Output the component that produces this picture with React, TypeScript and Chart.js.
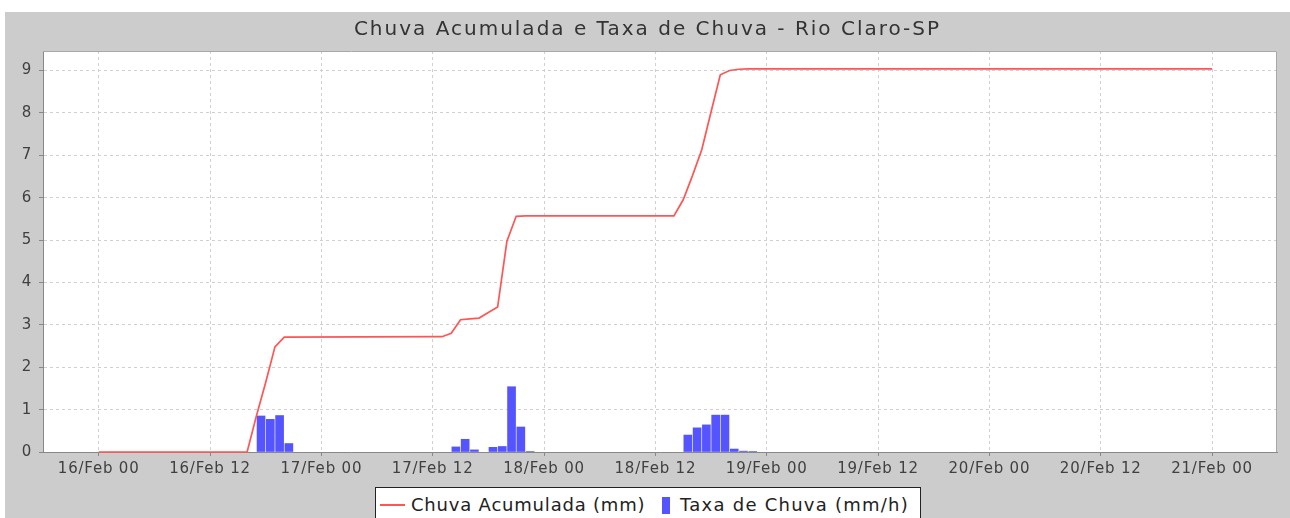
import React, { useEffect, useRef } from 'react';
import { Chart, registerables } from 'chart.js';

Chart.register(...registerables);

// Hours counted from 16/Feb 00:00
const xTickHours = [0, 12, 24, 36, 48, 60, 72, 84, 96, 108, 120];
const xTickLabels = [
  '16/Feb 00', '16/Feb 12', '17/Feb 00', '17/Feb 12', '18/Feb 00', '18/Feb 12',
  '19/Feb 00', '19/Feb 12', '20/Feb 00', '20/Feb 12', '21/Feb 00',
];
const yTicks = [0, 1, 2, 3, 4, 5, 6, 7, 8, 9];

// Chuva Acumulada (mm)
const accumHours = [0, 16, 17, 18, 19, 20, 37, 38, 39, 40, 41, 42, 43, 44, 45, 46, 62, 63, 64, 65, 66, 67, 68, 69, 70, 120];
const accumValues = [0, 0, 0.85, 1.64, 2.48, 2.71, 2.72, 2.8, 3.12, 3.14, 3.16, 3.29, 3.42, 4.97, 5.56, 5.57, 5.57, 5.95, 6.52, 7.13, 8.02, 8.9, 9.0, 9.03, 9.04, 9.04];

// Taxa de Chuva (mm/h), hourly periods starting at these hours
const rateHours = [17, 18, 19, 20, 38, 39, 40, 42, 43, 44, 45, 46, 63, 64, 65, 66, 67, 68, 69, 70];
const rateValues = [0.85, 0.77, 0.86, 0.2, 0.12, 0.3, 0.05, 0.11, 0.13, 1.54, 0.59, 0.01, 0.4, 0.57, 0.64, 0.87, 0.87, 0.07, 0.02, 0.01];

const title = 'Chuva Acumulada e Taxa de Chuva - Rio Claro-SP';
const seriesLine = 'Chuva Acumulada (mm)';
const seriesBar = 'Taxa de Chuva (mm/h)';

const FONT = '"DejaVu Sans", sans-serif';

const panelPlugin = {
  id: 'panel',
  beforeDraw(chart: any) {
    const { ctx, chartArea: a } = chart;
    ctx.save();
    ctx.fillStyle = '#cccccc';
    ctx.fillRect(0, 0, chart.width, chart.height);
    ctx.fillStyle = '#ffffff';
    ctx.fillRect(a.left, a.top, a.right - a.left, a.bottom - a.top);
    ctx.restore();
    (ctx as any).letterSpacing = '0.8px';
  },
  beforeDatasetsDraw(chart: any) {
    const { ctx, chartArea: a } = chart;
    ctx.save();
    ctx.strokeStyle = '#a8a8a8';
    ctx.lineWidth = 1;
    ctx.beginPath();
    ctx.moveTo(a.left, a.top + 0.5);
    ctx.lineTo(a.right - 0.5, a.top + 0.5);
    ctx.lineTo(a.right - 0.5, a.bottom);
    ctx.stroke();
    ctx.restore();
  },
};

export default function App() {
  const ref = useRef<HTMLCanvasElement | null>(null);

  useEffect(() => {
    if (!ref.current) return;
    const chart = new Chart(ref.current, {
      type: 'bar',
      data: {
        datasets: [
          {
            type: 'line',
            label: seriesLine,
            data: accumHours.map((h, i) => ({ x: h, y: accumValues[i] })),
            borderColor: '#ff5555',
            backgroundColor: '#ff5555',
            borderWidth: 1.7,
            pointRadius: 0,
            tension: 0,
            order: 1,
            clip: { left: 0, top: 0, right: 0, bottom: 3 },
          } as any,
          {
            type: 'bar',
            label: seriesBar,
            data: rateHours.map((h, i) => ({ x: h + 0.5, y: rateValues[i] })),
            backgroundColor: '#5555ff',
            borderWidth: 0,
            barThickness: 8,
            order: 2,
          } as any,
        ],
      },
      options: {
        responsive: false,
        animation: false,
        layout: { padding: { left: 0, top: 39, right: 13, bottom: 0 } },
        plugins: {
          legend: { display: false },
          title: { display: false },
          tooltip: { enabled: false },
        },
        scales: {
          x: {
            type: 'linear',
            min: -6,
            max: 127,
            offset: false,
            afterBuildTicks: (s: any) => {
              s.ticks = xTickHours.map((v) => ({ value: v }));
            },
            afterFit: (s: any) => {
              s.height = 66;
            },
            ticks: {
              autoSkip: false,
              maxRotation: 0,
              padding: 4,
              color: '#404040',
              font: { family: FONT, size: 15 },
              callback: (_v: any, i: number) => xTickLabels[i],
            },
            grid: {
              offset: false,
              color: '#d0d0d0',
              lineWidth: 1,
              tickLength: 4,
              tickColor: '#888888',
            },
            border: { display: true, color: '#888888', width: 1, dash: [3, 3] },
          },
          y: {
            type: 'linear',
            min: 0,
            max: 9.46,
            afterBuildTicks: (s: any) => {
              s.ticks = yTicks.map((v) => ({ value: v }));
            },
            afterFit: (s: any) => {
              s.width = 38;
            },
            ticks: {
              padding: 7,
              color: '#404040',
              font: { family: FONT, size: 15 },
              callback: (v: any) => String(v),
            },
            grid: {
              color: '#d0d0d0',
              lineWidth: 1,
              tickLength: 4,
              tickColor: '#888888',
            },
            border: { display: true, color: '#888888', width: 1, dash: [3, 3] },
          },
        },
      } as any,
      plugins: [panelPlugin],
    });
    return () => chart.destroy();
  }, []);

  return (
    <div
      style={{
        position: 'absolute',
        left: 0,
        top: 0,
        width: 1290,
        height: 518,
        overflow: 'hidden',
        background: '#ffffff',
        fontFamily: FONT,
      }}
    >
      <canvas
        ref={ref}
        width={1285}
        height={506}
        style={{ position: 'absolute', left: 5, top: 12, width: 1285, height: 506, display: 'block' }}
      />
      <div
        style={{
          position: 'absolute',
          left: 5,
          top: 18,
          width: 1285,
          textAlign: 'center',
          fontSize: 20,
          lineHeight: '20px',
          letterSpacing: '2px',
          color: '#333333',
          whiteSpace: 'nowrap',
        }}
      >
        {title}
      </div>
      <div
        style={{
          position: 'absolute',
          left: 375,
          top: 487,
          width: 544,
          height: 44,
          background: '#ffffff',
          border: '1px solid #222222',
        }}
      />
      <div style={{ position: 'absolute', left: 380, top: 504, width: 25, height: 2, background: '#ff5555' }} />
      <div
        style={{
          position: 'absolute',
          left: 411,
          top: 495,
          fontSize: 18,
          lineHeight: '20px',
          letterSpacing: '0.8px',
          color: '#222222',
          whiteSpace: 'nowrap',
        }}
      >
        {seriesLine}
      </div>
      <div style={{ position: 'absolute', left: 662, top: 497, width: 8, height: 17, background: '#5555ff' }} />
      <div
        style={{
          position: 'absolute',
          left: 680,
          top: 495,
          fontSize: 18,
          lineHeight: '20px',
          letterSpacing: '1.25px',
          color: '#222222',
          whiteSpace: 'nowrap',
        }}
      >
        {seriesBar}
      </div>
    </div>
  );
}
